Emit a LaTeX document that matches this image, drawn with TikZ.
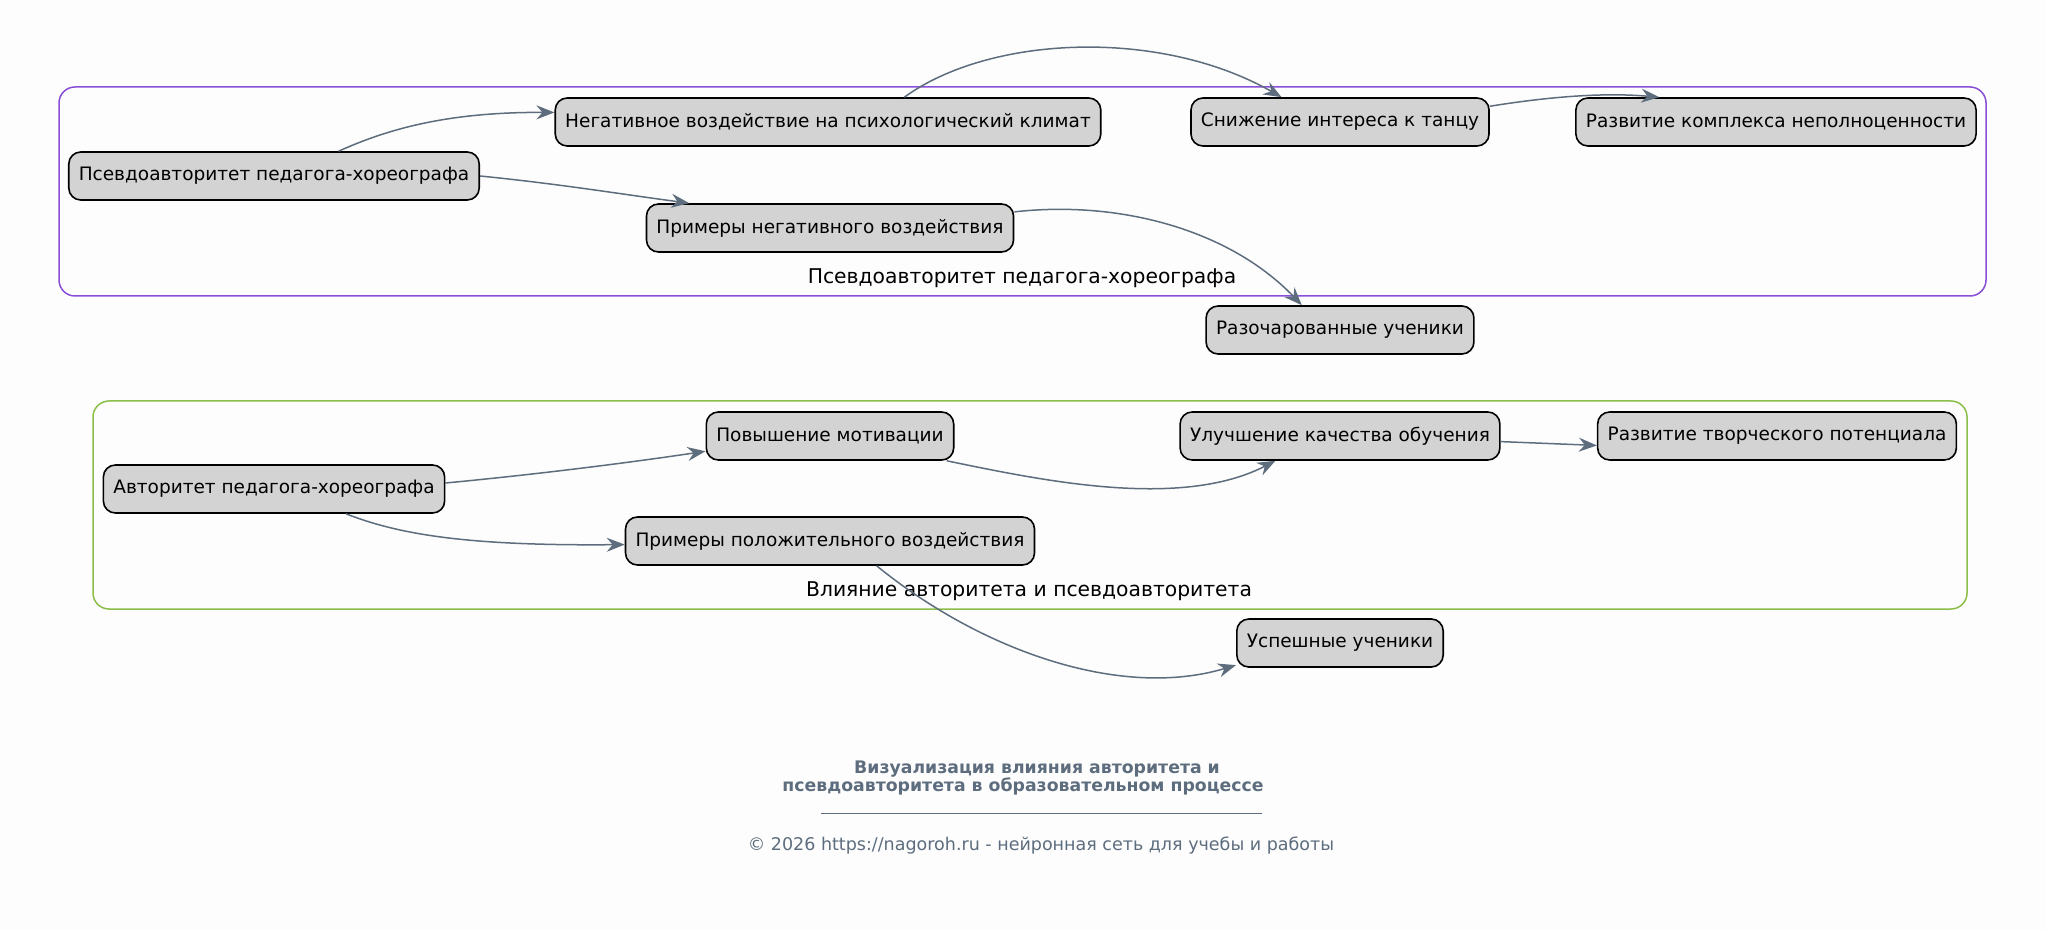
\documentclass[tikz,border=0pt]{standalone}
\usepackage{fontspec}
\setmainfont{DejaVu Sans}
\usetikzlibrary{arrows.meta}

\definecolor{edgegray}{HTML}{5D6D7E}
\definecolor{pseudoline}{HTML}{8A4FD8}
\definecolor{authline}{HTML}{8CBF4A}
\definecolor{boxfill}{HTML}{D3D3D3}
\definecolor{pagebg}{HTML}{FDFDFD}

\tikzset{
  box/.style={draw=black, line width=0.8pt, fill=boxfill, rounded corners=6pt, minimum height=24pt,
    inner xsep=5pt, font=\fontsize{9.25}{11}\selectfont},
  edge/.style={draw=edgegray, line width=0.75pt, -{Stealth[length=9pt,width=7pt,inset=3pt]}},
  cluster/.style={rounded corners=8pt, line width=0.75pt},
  clusterlabel/.style={font=\fontsize{10.15}{12}\selectfont},
}

\begin{document}
\begin{tikzpicture}[x=0.5pt, y=-0.5pt]
	\fill[pagebg] (0,0) rectangle (2045,930);
	\useasboundingbox (0,0) rectangle (2045,930);
	% clusters
	\draw[cluster, draw=pseudoline] (59,87) rectangle (1986,296);
	\node[clusterlabel] (pslabel) at (1022,278) {Псевдоавторитет педагога-хореографа};
	\draw[cluster, draw=authline] (93,401) rectangle (1967,609);
	\node[clusterlabel] (aulabel) at (1029,591) {Влияние авторитета и псевдоавторитета};
	% pseudo-authority
	\node[box] (pa) at (274,176) {Псевдоавторитет педагога-хореографа};
	\node[box] (nc) at (828,122) {Негативное воздействие на психологический климат};
	\node[box] (pn) at (830,228) {Примеры негативного воздействия};
	\node[box] (sn) at (1340,122) {Снижение интереса к танцу};
	\node[box] (rk) at (1776,122) {Развитие комплекса неполноценности};
	\node[box] (rz) at (1340,330) {Разочарованные ученики};
	% authority
	\node[box] (au) at (274,489) {Авторитет педагога-хореографа};
	\node[box] (pm) at (830,436) {Повышение мотивации};
	\node[box] (pp) at (830,541) {Примеры положительного воздействия};
	\node[box] (ul) at (1340,436) {Улучшение качества обучения};
	\node[box] (rt) at (1777,436) {Развитие творческого потенциала};
	\node[box] (us) at (1340,643) {Успешные ученики};
	% edges
	\draw[edge] (pa.21) .. controls (390,128) and (450,112) .. (nc.178);
	\draw[edge] (pa.east) .. controls (560,184) and (620,194) .. (pn.170);
	\draw[edge] (nc.18) .. controls (990,35) and (1160,28) .. (sn.157);
	\draw[edge] (sn.6.5) .. controls (1560,95) and (1610,93) .. (rk.168);
	\draw[edge] (pn.5) .. controls (1120,200) and (1230,230) .. (rz.147);
	\draw[edge] (au.2) .. controls (530,475) and (620,464) .. (pm.187);
	\draw[edge] (au.-19) .. controls (400,535) and (470,546) .. (pp.181);
	\draw[edge] (pm.-12) .. controls (1040,480) and (1180,510) .. (ul.201);
	\draw[edge] (ul.-2) -- (rt.183);
	\draw[edge] (pp.-28) .. controls (980,650) and (1120,700) .. (us.192);
	% footer
	\node[text=edgegray, align=center, font=\bfseries\fontsize{8.65}{9.2}\selectfont] (title) at (1023,778)
		{\hspace*{14pt}Визуализация влияния авторитета и\\псевдоавторитета в образовательном процессе};
	\draw[edgegray, line width=0.4pt] (821,813) -- (1262,813);
	\node[text=edgegray, font=\fontsize{8.75}{10}\selectfont] (copy) at (1041,846)
		{© 2026 https://nagoroh.ru - нейронная сеть для учебы и работы};
\end{tikzpicture}
\end{document}
